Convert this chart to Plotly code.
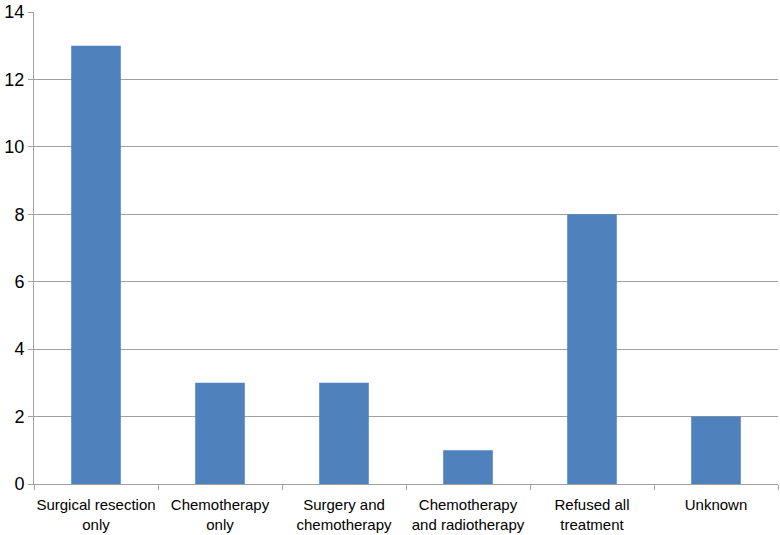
import plotly.graph_objects as go

categories = ["Surgical resection<br>only", "Chemotherapy<br>only", "Surgery and<br>chemotherapy",
              "Chemotherapy<br>and radiotherapy", "Refused all<br>treatment", "Unknown"]
values = [13, 3, 3, 1, 8, 2]
y_ticks = [0, 2, 4, 6, 8, 10, 12, 14]

fig = go.Figure(go.Bar(x=categories, y=values, marker=dict(color="#4F81BD", line=dict(width=0)), width=0.4))

fig.update_layout(
    width=780, height=535,
    margin=dict(l=34, r=2, t=12, b=51),
    paper_bgcolor="white", plot_bgcolor="white",
    font=dict(family="Liberation Sans, Arial, sans-serif", color="black"),
    showlegend=False,
    bargap=0.6,
)
fig.update_xaxes(
    showline=True, linecolor="#a0a0a0", linewidth=1,
    ticks="outside", tickson="boundaries", ticklen=5, tickcolor="#a0a0a0",
    showgrid=False, tickfont=dict(size=15), automargin=False, tickangle=0,
    ticklabelstandoff=7,
)
fig.update_yaxes(
    range=[0, 14], tickvals=y_ticks, showline=True, linecolor="#a0a0a0", linewidth=1,
    ticks="outside", ticklen=5, tickcolor="#a0a0a0",
    showgrid=True, gridcolor="#a0a0a0", gridwidth=1, tickfont=dict(size=18),
    zeroline=False, automargin=False,
)

fig.write_html("out.html", config={"displayModeBar": False},
               post_script="document.body.style.margin='0';document.body.style.overflow='hidden';")
